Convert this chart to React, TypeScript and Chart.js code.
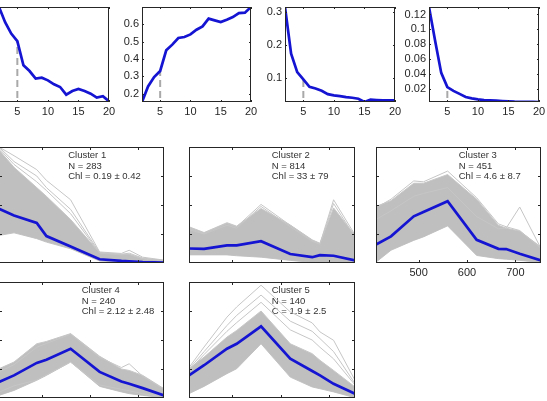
import { useEffect, useRef } from 'react';
import { Chart, registerables } from 'chart.js';

Chart.register(...registerables);

// ---- top row: scores against number of clusters ----
const K = [2, 3, 4, 5, 6, 7, 8, 9, 10, 11, 12, 13, 14, 15, 16, 17, 18, 19, 20];
const K_TICKS = [5, 10, 15, 20];
const K_CHOSEN = 5;

const METRIC_A = [1.0, 0.84, 0.72, 0.64, 0.386, 0.326, 0.246, 0.256, 0.228, 0.186, 0.158, 0.077, 0.116, 0.137, 0.116, 0.088, 0.046, 0.06, 0.007];
const METRIC_B = [0.152, 0.242, 0.296, 0.331, 0.45, 0.483, 0.521, 0.527, 0.542, 0.569, 0.588, 0.633, 0.623, 0.613, 0.627, 0.642, 0.665, 0.667, 0.7];
const METRIC_C = [0.315, 0.173, 0.117, 0.095, 0.072, 0.067, 0.06, 0.05, 0.046, 0.044, 0.041, 0.039, 0.036, 0.026, 0.033, 0.032, 0.031, 0.031, 0.031];
const METRIC_D = [0.13, 0.085, 0.042, 0.023, 0.018, 0.014, 0.0098, 0.008, 0.0067, 0.0058, 0.0053, 0.0049, 0.0044, 0.004, 0.0036, 0.0034, 0.0033, 0.0032, 0.0031];

const B_TICKS = [0.2, 0.3, 0.4, 0.5, 0.6];
const C_TICKS = [0.1, 0.2, 0.3];
const D_TICKS = [0.02, 0.04, 0.06, 0.08, 0.1, 0.12];

// ---- cluster spectra (MERIS bands, nm) ----
const BANDS = [412, 443, 490, 510, 560, 620, 665, 681, 709, 753];
const NM_TICKS = [500, 600, 700];
const R_TICKS = [1, 2, 3];

const C1_MEAN = [1.87, 1.64, 1.38, 0.93, 0.57, 0.13, 0.07, 0.06, 0.03, 0.01];
const C1_UPPER = [3.9, 3.3, 2.6, 2.3, 1.5, 0.35, 0.3, 0.3, 0.15, 0.08];
const C1_LOWER = [0.95, 1.04, 0.84, 0.72, 0.49, 0.07, 0.02, 0.02, 0.01, 0.0];
const C1_OUT_1 = [4.0, 3.7, 3.22, 2.85, 2.18, 0.38, 0.33, 0.44, 0.2, 0.1];
const C1_OUT_2 = [4.0, 3.5, 3.0, 2.6, 1.85, 0.36, 0.3, 0.34, 0.17, 0.09];
const C1_OUT_3 = [3.95, 3.4, 2.8, 2.5, 1.7, 0.34, 0.28, 0.3, 0.15, 0.08];

const C2_MEAN = [0.5, 0.49, 0.61, 0.61, 0.75, 0.31, 0.2, 0.27, 0.25, 0.09];
const C2_UPPER = [1.25, 1.05, 1.39, 1.27, 1.88, 1.31, 0.8, 0.68, 1.9, 0.95];
const C2_LOWER = [0.28, 0.28, 0.28, 0.25, 0.2, 0.09, 0.02, 0.02, 0.01, 0.0];
const C2_OUT_1 = [1.2, 1.02, 1.36, 1.25, 2.02, 1.3, 0.78, 0.66, 2.18, 0.97];
const C2_OUT_2 = [1.15, 1.0, 1.3, 1.2, 1.95, 1.25, 0.75, 0.64, 2.05, 0.9];

const C3_MEAN = [0.64, 0.92, 1.61, 1.76, 2.13, 0.8, 0.49, 0.48, 0.32, 0.09];
const C3_UPPER = [1.95, 2.15, 2.75, 2.75, 3.05, 2.2, 1.3, 1.2, 1.1, 0.55];
const C3_LOWER = [0.03, 0.44, 0.78, 0.9, 1.28, 0.26, 0.15, 0.13, 0.09, 0.02];
const C3_OUT_1 = [1.9, 2.2, 2.83, 2.8, 3.17, 2.25, 1.35, 1.25, 1.12, 0.5];
const C3_OUT_2 = [1.5, 1.8, 2.3, 2.4, 2.6, 1.6, 1.18, 1.2, 1.93, 0.5];

const C4_MEAN = [0.55, 0.78, 1.21, 1.32, 1.7, 0.9, 0.57, 0.49, 0.34, 0.09];
const C4_UPPER = [1.01, 1.24, 1.87, 1.95, 2.22, 1.44, 1.0, 0.95, 0.78, 0.32];
const C4_LOWER = [0.09, 0.26, 0.61, 0.78, 1.24, 0.4, 0.21, 0.15, 0.09, 0.01];
const C4_OUT_1 = [0.9, 1.15, 1.75, 1.88, 2.2, 1.4, 1.05, 1.18, 0.75, 0.3];
const C4_OUT_2 = [0.2, 0.42, 0.62, 0.8, 1.24, 0.45, 0.3, 0.25, 0.15, 0.03];

const C5_MEAN = [0.78, 1.13, 1.7, 1.87, 2.47, 1.36, 0.93, 0.78, 0.49, 0.15];
const C5_UPPER = [1.01, 1.41, 2.1, 2.33, 3.0, 1.87, 1.53, 1.3, 0.95, 0.38];
const C5_LOWER = [0.15, 0.4, 0.84, 1.01, 1.87, 0.72, 0.38, 0.32, 0.21, 0.01];
const C5_OUT_1 = [1.05, 1.76, 2.79, 3.14, 3.89, 2.97, 2.59, 2.28, 1.99, 0.61];
const C5_OUT_2 = [1.0, 1.6, 2.5, 2.85, 3.55, 2.65, 2.3, 2.05, 1.6, 0.5];
const C5_OUT_3 = [0.95, 1.5, 2.3, 2.6, 3.3, 2.35, 2.0, 1.75, 1.35, 0.45];

const BLUE = '#1414d2';
const FILL_GREY = '#bfbfbf';
const LINE_GREY = '#c6c6c6';
const AXIS = '#262626';
const FONT = '"Liberation Sans", Arial, Helvetica, sans-serif';
const PAD = 32;

type FrameOpts = {
  xTicks: number[];
  yTicks: number[];
  xLabels?: boolean;
  yLabels?: boolean;
  tickLen: number;
  notes?: string[];
  noteX?: number;
};

// Box, inward tick marks, tick labels and the text block of each axes.
const framePlugin = {
  id: 'frame',
  beforeDatasetsDraw(chart: any, _a: any, o: FrameOpts) {
    if (!o.notes) return;
    const { ctx, chartArea: a, scales } = chart;
    ctx.save();
    ctx.font = `9.5px ${FONT}`;
    ctx.fillStyle = '#333';
    ctx.textAlign = 'left';
    ctx.textBaseline = 'middle';
    const px = scales.x.getPixelForValue(o.noteX);
    o.notes.forEach((t, i) => ctx.fillText(t, px, a.top + 8.5 + i * 10.6));
    ctx.restore();
  },
  afterDatasetsDraw(chart: any, _a: any, o: FrameOpts) {
    const { ctx, chartArea: a, scales } = chart;
    const { x, y } = scales;
    ctx.save();
    ctx.strokeStyle = AXIS;
    ctx.lineWidth = 1;
    ctx.strokeRect(a.left + 0.5, a.top + 0.5, a.right - a.left - 1, a.bottom - a.top - 1);
    ctx.beginPath();
    o.xTicks.forEach((v) => {
      const px = Math.round(x.getPixelForValue(v)) + 0.5;
      ctx.moveTo(px, a.bottom);
      ctx.lineTo(px, a.bottom - o.tickLen);
      ctx.moveTo(px, a.top);
      ctx.lineTo(px, a.top + o.tickLen);
    });
    o.yTicks.forEach((v) => {
      const py = Math.round(y.getPixelForValue(v)) + 0.5;
      ctx.moveTo(a.left, py);
      ctx.lineTo(a.left + o.tickLen, py);
      ctx.moveTo(a.right, py);
      ctx.lineTo(a.right - o.tickLen, py);
    });
    ctx.stroke();
    ctx.fillStyle = AXIS;
    ctx.font = `11px ${FONT}`;
    if (o.xLabels) {
      ctx.textAlign = 'center';
      ctx.textBaseline = 'top';
      o.xTicks.forEach((v) => ctx.fillText(String(v), x.getPixelForValue(v), a.bottom + 4));
    }
    if (o.yLabels) {
      ctx.textAlign = 'right';
      ctx.textBaseline = 'middle';
      o.yTicks.forEach((v) => ctx.fillText(String(v), a.left - 3, y.getPixelForValue(v)));
    }
    ctx.restore();
  },
};

function baseOptions(xMin: number, xMax: number, yMin: number, yMax: number, frame: FrameOpts) {
  return {
    animation: false as const,
    responsive: false,
    devicePixelRatio: 1,
    layout: { padding: PAD },
    elements: { point: { radius: 0 }, line: { tension: 0 } },
    scales: {
      x: { type: 'linear' as const, min: xMin, max: xMax, display: false },
      y: { type: 'linear' as const, min: yMin, max: yMax, display: false },
    },
    plugins: { legend: { display: false }, tooltip: { enabled: false }, frame },
  };
}

function scoreConfig(values: number[], yMin: number, yMax: number, yTicks: number[], yLabels: boolean) {
  const chosen = values[K.indexOf(K_CHOSEN)];
  return {
    type: 'line' as const,
    data: {
      datasets: [
        {
          data: K.map((k, i) => ({ x: k, y: values[i] })),
          borderColor: BLUE,
          borderWidth: 2.7,
          clip: 0,
        },
        {
          data: [
            { x: K_CHOSEN, y: yMin },
            { x: K_CHOSEN, y: chosen },
          ],
          borderColor: '#a9a9a9',
          borderWidth: 2,
          borderDash: [7, 4],
          borderDashOffset: 7,
          clip: 0,
        },
      ],
    },
    options: baseOptions(2, 20, yMin, yMax, { xTicks: K_TICKS, yTicks, xLabels: true, yLabels, tickLen: 2 }),
    plugins: [framePlugin],
  };
}

type Cluster = {
  mean: number[];
  upper: number[];
  lower: number[];
  outliers: number[][];
  notes: string[];
  noteX: number;
  xLabels: boolean;
};

function clusterConfig(c: Cluster) {
  const pts = (arr: number[]) => BANDS.map((b, i) => ({ x: b, y: arr[i] }));
  return {
    type: 'line' as const,
    data: {
      datasets: [
        { data: pts(c.mean), borderColor: BLUE, borderWidth: 2.7, clip: 0 },
        ...c.outliers.map((o) => ({ data: pts(o), borderColor: LINE_GREY, borderWidth: 1, clip: 0 })),
        {
          data: pts(c.upper),
          borderColor: LINE_GREY,
          borderWidth: 1,
          fill: '+1',
          backgroundColor: FILL_GREY,
          clip: 0,
        },
        { data: pts(c.lower), borderColor: LINE_GREY, borderWidth: 1, clip: 0 },
      ],
    },
    options: baseOptions(412, 753, 0, 4, {
      xTicks: NM_TICKS,
      yTicks: R_TICKS,
      xLabels: c.xLabels,
      yLabels: false,
      tickLen: 3,
      notes: c.notes,
      noteX: c.noteX,
    }),
    plugins: [framePlugin],
  };
}

type PanelSpec = { left: number; top: number; width: number; height: number; config: () => any };

const PANELS: PanelSpec[] = [
  { left: -1, top: 7, width: 110, height: 95, config: () => scoreConfig(METRIC_A, 0, 1, [], false) },
  { left: 142, top: 7, width: 109, height: 95, config: () => scoreConfig(METRIC_B, 0.152, 0.7, B_TICKS, true) },
  { left: 285, top: 7, width: 110, height: 95, config: () => scoreConfig(METRIC_C, 0.026, 0.315, C_TICKS, true) },
  { left: 429, top: 7, width: 110, height: 95, config: () => scoreConfig(METRIC_D, 0.0031, 0.13, D_TICKS, true) },
  {
    left: -1, top: 147, width: 165, height: 116,
    config: () => clusterConfig({
      mean: C1_MEAN, upper: C1_UPPER, lower: C1_LOWER, outliers: [C1_OUT_1, C1_OUT_2, C1_OUT_3],
      notes: ['Cluster 1', 'N = 283', 'Chl = 0.19 ± 0.42'], noteX: 555, xLabels: false,
    }),
  },
  {
    left: 189, top: 147, width: 166, height: 116,
    config: () => clusterConfig({
      mean: C2_MEAN, upper: C2_UPPER, lower: C2_LOWER, outliers: [C2_OUT_1, C2_OUT_2],
      notes: ['Cluster 2', 'N = 814', 'Chl = 33 ± 79'], noteX: 582, xLabels: false,
    }),
  },
  {
    left: 376, top: 147, width: 165, height: 116,
    config: () => clusterConfig({
      mean: C3_MEAN, upper: C3_UPPER, lower: C3_LOWER, outliers: [C3_OUT_1, C3_OUT_2],
      notes: ['Cluster 3', 'N = 451', 'Chl = 4.6 ± 8.7'], noteX: 583, xLabels: true,
    }),
  },
  {
    left: -1, top: 282, width: 165, height: 116,
    config: () => clusterConfig({
      mean: C4_MEAN, upper: C4_UPPER, lower: C4_LOWER, outliers: [C4_OUT_1, C4_OUT_2],
      notes: ['Cluster 4', 'N = 240', 'Chl = 2.12 ± 2.48'], noteX: 583, xLabels: true,
    }),
  },
  {
    left: 189, top: 282, width: 166, height: 116,
    config: () => clusterConfig({
      mean: C5_MEAN, upper: C5_UPPER, lower: C5_LOWER, outliers: [C5_OUT_1, C5_OUT_2, C5_OUT_3],
      notes: ['Cluster 5', 'N = 140', 'C = 1.9 ± 2.5'], noteX: 582, xLabels: true,
    }),
  },
];

function Panel({ spec }: { spec: PanelSpec }) {
  const ref = useRef<HTMLCanvasElement>(null);
  useEffect(() => {
    const chart = new Chart(ref.current as HTMLCanvasElement, spec.config());
    return () => chart.destroy();
  }, [spec]);
  const w = spec.width + 2 * PAD;
  const h = spec.height + 2 * PAD;
  return (
    <canvas
      ref={ref}
      width={w}
      height={h}
      style={{ position: 'absolute', left: spec.left - PAD, top: spec.top - PAD, width: w, height: h }}
    />
  );
}

export default function App() {
  return (
    <div
      style={{
        position: 'fixed',
        left: 0,
        top: 0,
        width: 547,
        height: 401,
        overflow: 'hidden',
        background: '#ffffff',
      }}
    >
      {PANELS.map((p, i) => (
        <Panel key={i} spec={p} />
      ))}
    </div>
  );
}
